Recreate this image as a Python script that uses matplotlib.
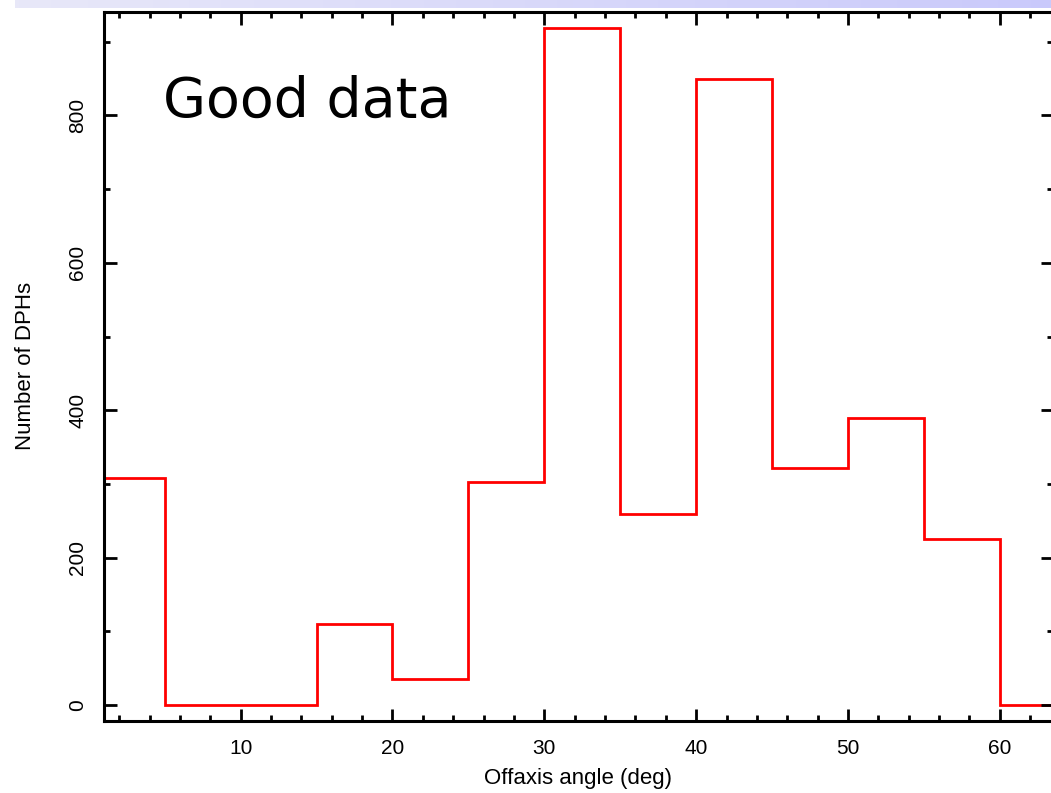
import numpy as np
import matplotlib.pyplot as plt
from matplotlib.ticker import MultipleLocator

# -----------------------------
# Histogram data (5 deg bins)
# -----------------------------
bin_edges = [0, 5, 10, 15, 20, 25, 30, 35, 40, 45, 50, 55, 60, 65]
n_dphs = [308, 0, 0, 110, 35, 302, 918, 259, 850, 321, 390, 225, 0]

x_ticks = [10, 20, 30, 40, 50, 60]
y_ticks = [0, 200, 400, 600, 800]

plt.rcParams["font.family"] = ["Liberation Sans", "DejaVu Sans"]

fig = plt.figure(figsize=(10.51, 7.93), dpi=100)

# -----------------------------
# Lavender header strip
# -----------------------------
band = fig.add_axes([15 / 1051, 1 - 8 / 793, 1 - 15 / 1051, 8 / 793])
grad = np.linspace(0, 1, 256).reshape(1, -1)
c0 = np.array([0.91, 0.91, 0.975])
c1 = np.array([0.79, 0.79, 0.985])
rgb = c0[None, None, :] * (1 - grad[..., None]) + c1[None, None, :] * grad[..., None]
band.imshow(rgb, aspect="auto", extent=[0, 1, 0, 1])
band.axis("off")

# -----------------------------
# Main histogram
# -----------------------------
ax = fig.add_axes([104 / 1051, 72 / 793, 949 / 1051, 709.5 / 793])
ax.stairs(n_dphs, bin_edges, baseline=None, color="#ff0000", linewidth=2.0)

ax.set_xlim(1.0, 63.5)
ax.set_ylim(-21.6, 941)

ax.set_xticks(x_ticks)
ax.set_yticks(y_ticks)
ax.xaxis.set_minor_locator(MultipleLocator(2))
ax.yaxis.set_minor_locator(MultipleLocator(100))

for s in ax.spines.values():
    s.set_linewidth(2.2)

ax.tick_params(which="both", direction="in", top=True, right=True, width=2.0,
               labelsize=15)
ax.tick_params(which="major", length=9)
ax.tick_params(which="minor", length=4.5)
ax.tick_params(axis="x", pad=13)
ax.tick_params(axis="y", pad=12)
for lbl in ax.get_yticklabels():
    lbl.set_rotation(90)
    lbl.set_va("center")

ax.set_xlabel("Offaxis angle (deg)", fontsize=16, labelpad=7)
ax.set_ylabel("Number of DPHs", fontsize=16, labelpad=23)

ax.text(0.062, 0.851, "Good data", transform=ax.transAxes,
        fontsize=40, family="DejaVu Sans", ha="left", va="baseline")

fig.savefig("out.png", dpi=100)
